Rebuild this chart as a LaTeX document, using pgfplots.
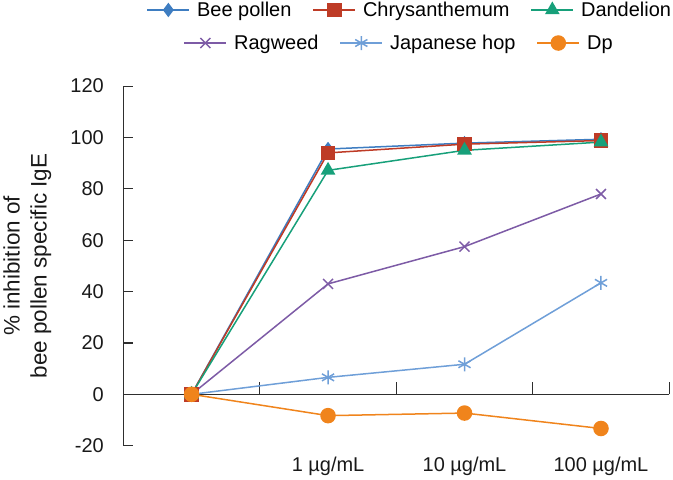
\documentclass[border=0pt]{standalone}
\usepackage{pgfplots}
\pgfplotsset{compat=1.18}
\usepackage{pgfplotstable}
\usepackage{fontspec}
\setmainfont{Liberation Sans}
\definecolor{cBee}{HTML}{3E7DC1}
\definecolor{cChr}{HTML}{BE3B26}
\definecolor{cDan}{HTML}{17A07A}
\definecolor{cRag}{HTML}{7D5BA6}
\definecolor{cJap}{HTML}{6F9FD8}
\definecolor{cDp}{HTML}{F0841C}
\definecolor{cAx}{HTML}{2E2E2E}

\pgfplotstableread{
x bee chry dand rag jap dp
0 0 0 0 0 0 0
1 95.5 94.0 87.2 43.0 6.6 -8.3
2 97.8 97.4 95.0 57.5 11.7 -7.3
3 99.3 98.8 98.2 78.0 43.4 -13.3
}\datatable

\pgfplotsset{
  myaxis/.style={scale only axis, width=545bp, height=359bp,
    xmin=-0.5, xmax=3.5, ymin=-20, ymax=120, clip=false},
  mylegend/.style={
    legend columns=3,
    legend image code/.code={\draw[mark repeat=2,mark phase=2,##1] plot coordinates {(0bp,0bp) (21bp,0bp) (42bp,0bp)};},
    legend style={draw=none, fill=none, inner sep=0pt,
      font=\fontsize{20}{22}\selectfont,
      nodes={inner sep=2bp},
      /tikz/every odd column/.append style={column sep=5bp},
      /tikz/every even column/.append style={column sep=19bp}},
  },
  sline/.style={line width=1.5bp},
}

\begin{document}
\begin{tikzpicture}
\begin{axis}[myaxis, mylegend,
  axis y line*=left, axis x line*=bottom,
  x axis line style={draw=none},
  y axis line style={cAx, line width=1.2bp},
  ytick={-20,0,20,40,60,80,100,120},
  xtick={1,2,3},
  xticklabels={1 µg/mL, 10 µg/mL, 100 µg/mL},
  tick align=inside, major tick length=10bp,
  x tick style={draw=none},
  y tick style={cAx, line width=1.2bp},
  /pgf/number format/assume math mode=true,
  tick label style={font=\fontsize{20}{22}\selectfont, text=black!90},
  yticklabel style={xshift=-16bp},
  xticklabel style={yshift=-8bp},
  ylabel={\% inhibition of\\bee pollen specific IgE},
  ylabel style={at={(axis description cs:-0.176,0.5)}, anchor=center,
    align=center, font=\fontsize{22.5}{27}\selectfont, text=black!90},
  legend style={at={(axis description cs:0.0422,1.2117)}, anchor=west},
]
\draw[cAx, line width=1.2bp] (axis cs:-0.5,0) -- (axis cs:3.5,0);
\draw[cAx, line width=1.2bp] (axis cs:0.5,0) -- (axis cs:0.5,4.7);
\draw[cAx, line width=1.2bp] (axis cs:1.5,0) -- (axis cs:1.5,4.7);
\draw[cAx, line width=1.2bp] (axis cs:2.5,0) -- (axis cs:2.5,4.7);
\draw[cAx, line width=1.2bp] (axis cs:3.5,0) -- (axis cs:3.5,4.7);
\addplot[sline, cBee, mark=diamond*, mark size=6bp, mark options={fill=cBee}] table[x=x,y=bee] {\datatable};
\addplot[sline, cChr, mark=square*, mark size=6.5bp, mark options={fill=cChr}] table[x=x,y=chry] {\datatable};
\addplot[sline, cDan, mark=triangle*, mark size=7bp, mark options={fill=cDan}] table[x=x,y=dand] {\datatable};
\addplot[sline, cRag, mark=x, mark size=7bp] table[x=x,y=rag] {\datatable};
\addplot[sline, cJap, mark=asterisk, mark size=7bp] table[x=x,y=jap] {\datatable};
\addplot[sline, cDp, mark=*, mark size=7bp, mark options={fill=cDp}] table[x=x,y=dp] {\datatable};
\legend{Bee pollen, Chrysanthemum, Dandelion}
\end{axis}
\begin{axis}[myaxis, mylegend, hide axis,
  legend style={at={(axis description cs:0.110,1.1198)}, anchor=west}]
\addlegendimage{sline, cRag, mark=x, mark size=7bp}
\addlegendimage{sline, cJap, mark=asterisk, mark size=7bp}
\addlegendimage{sline, cDp, mark=*, mark size=7bp, mark options={fill=cDp}}
\legend{Ragweed, Japanese hop, Dp}
\end{axis}
\end{tikzpicture}
\end{document}
